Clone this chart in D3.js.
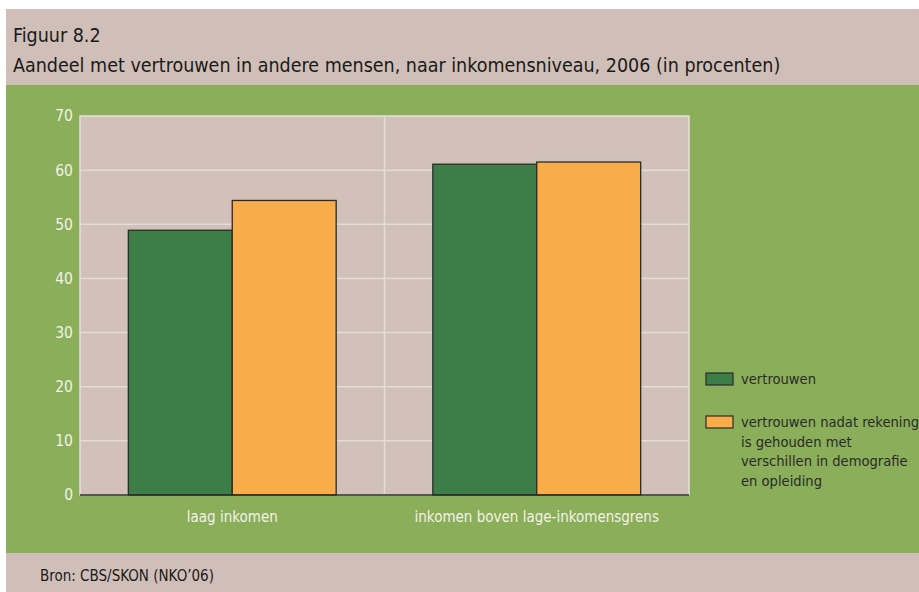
<!DOCTYPE html>
<html>
<head>
<meta charset="utf-8">
<script src="https://cdn.jsdelivr.net/npm/d3@7"></script>
<style>
  html, body { margin: 0; padding: 0; background: #ffffff; }
  svg { display: block; }
  text { font-family: "DejaVu Sans Condensed", "Liberation Sans Narrow", sans-serif; }
</style>
</head>
<body>
<svg id="chart" width="919" height="592"></svg>
<script>
// Categories and series
const categories = ["laag inkomen", "inkomen boven lage-inkomensgrens"];
const seriesNames = ["vertrouwen", "vertrouwen nadat rekening is gehouden met verschillen in demografie en opleiding"];
const vertrouwen = [48.9, 61.1];
const vertrouwenGecorrigeerd = [54.4, 61.5];
const yTicks = [0, 10, 20, 30, 40, 50, 60, 70];

const colors = ["#3d7d48", "#f9ad4a"];
const beige = "#d0bfb8";
const green = "#8aae5a";
const font = "DejaVu Sans Condensed, Liberation Sans Narrow, sans-serif";

const svg = d3.select("#chart");

// Panels: header, chart area, footer
svg.append("rect").attr("x", 6).attr("y", 9).attr("width", 913).attr("height", 76).attr("fill", beige);
svg.append("rect").attr("x", 6).attr("y", 85).attr("width", 913).attr("height", 468).attr("fill", green);
svg.append("rect").attr("x", 6).attr("y", 553).attr("width", 913).attr("height", 39).attr("fill", beige);

svg.append("text").attr("x", 13).attr("y", 42).attr("font-size", 19.5).attr("fill", "#1a1a1a")
  .text("Figuur 8.2");
svg.append("text").attr("x", 13).attr("y", 72).attr("font-size", 19.5).attr("fill", "#1a1a1a")
  .text("Aandeel met vertrouwen in andere mensen, naar inkomensniveau, 2006 (in procenten)");
svg.append("text").attr("x", 40).attr("y", 581).attr("font-size", 15).attr("fill", "#1a1a1a")
  .text("Bron: CBS/SKON (NKO\u201906)");

const plot = { left: 80, right: 689, top: 116, bottom: 495 };

const y = d3.scaleLinear().domain([0, 70]).range([plot.bottom, plot.top]);
const x0 = d3.scaleBand().domain(categories).range([plot.left, plot.right]).paddingInner(0).paddingOuter(0);
const x1 = d3.scaleBand().domain([0, 1]).range([0, x0.bandwidth()]).paddingOuter(0.465).paddingInner(0);

const g = svg.append("g");

// Plot background
g.append("rect").attr("x", plot.left).attr("y", plot.top)
  .attr("width", plot.right - plot.left).attr("height", plot.bottom - plot.top)
  .attr("fill", "#d1c1b9").attr("stroke", "#e8dfda").attr("stroke-width", 1.5);

// Horizontal gridlines
g.selectAll(".grid").data(yTicks.filter(d => d > 0 && d < 70)).join("line")
  .attr("x1", plot.left).attr("x2", plot.right)
  .attr("y1", d => y(d)).attr("y2", d => y(d))
  .attr("stroke", "#e6dcd7").attr("stroke-width", 1.5);

// Vertical separator between categories
g.append("line")
  .attr("x1", x0(categories[1])).attr("x2", x0(categories[1]))
  .attr("y1", plot.top).attr("y2", plot.bottom)
  .attr("stroke", "#e6dcd7").attr("stroke-width", 1.5);

// Y axis labels
const yAxis = d3.axisLeft(y).tickValues(yTicks).tickSize(0).tickPadding(7);
const ya = g.append("g").attr("transform", `translate(${plot.left},0)`).call(yAxis);
ya.select(".domain").remove();
ya.selectAll("text").attr("font-size", 15.5).attr("fill", "#f4f1e6").attr("font-family", font);

// Bars
const rows = categories.map((c, i) => ({ cat: c, vals: [vertrouwen[i], vertrouwenGecorrigeerd[i]] }));
const groups = g.selectAll(".grp").data(rows).join("g")
  .attr("transform", d => `translate(${x0(d.cat)},0)`);
groups.selectAll("rect").data(d => d.vals.map((v, k) => ({ v, k }))).join("rect")
  .attr("x", d => x1(d.k))
  .attr("width", x1.bandwidth())
  .attr("y", d => y(d.v))
  .attr("height", d => y(0) - y(d.v))
  .attr("fill", d => colors[d.k])
  .attr("stroke", "#2b2b2b").attr("stroke-width", 1.3);

// Baseline
g.append("line").attr("x1", plot.left).attr("x2", plot.right)
  .attr("y1", plot.bottom).attr("y2", plot.bottom)
  .attr("stroke", "#2b2b2b").attr("stroke-width", 1.5);

// X axis labels
const xAxis = d3.axisBottom(x0).tickSize(0).tickPadding(16);
const xa = g.append("g").attr("transform", `translate(0,${plot.bottom})`).call(xAxis);
xa.select(".domain").remove();
xa.selectAll("text").attr("font-size", 15).attr("fill", "#f4f1e6").attr("font-family", font);

// Legend
const legendLines = [
  ["vertrouwen"],
  ["vertrouwen nadat rekening", "is gehouden met", "verschillen in demografie", "en opleiding"]
];
const legendY = [373, 416];
legendLines.forEach((lines, i) => {
  svg.append("rect").attr("x", 706).attr("y", legendY[i]).attr("width", 27).attr("height", 12)
    .attr("fill", colors[i]).attr("stroke", "#2b2b2b").attr("stroke-width", 1.2);
  const t = svg.append("text").attr("x", 741).attr("y", legendY[i] + 11)
    .attr("font-size", 14.6).attr("fill", "#2a2a2a");
  lines.forEach((ln, j) => {
    t.append("tspan").attr("x", 741).attr("dy", j === 0 ? 0 : 19.5).text(ln);
  });
});
</script>
</body>
</html>
